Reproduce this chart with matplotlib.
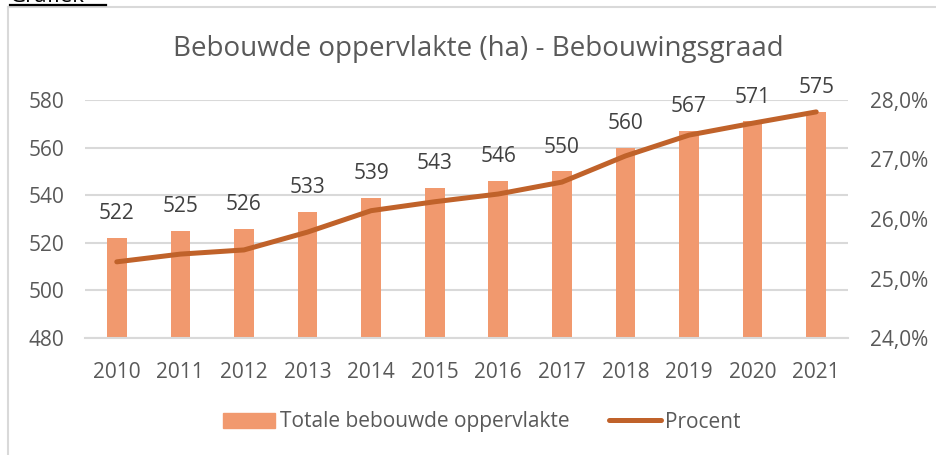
import matplotlib
matplotlib.use("Agg")
import matplotlib.pyplot as plt
from matplotlib.lines import Line2D
from matplotlib.ticker import FuncFormatter

plt.rcParams['font.family'] = ['Open Sans', 'DejaVu Sans']

years = ['2010', '2011', '2012', '2013', '2014', '2015', '2016', '2017', '2018', '2019', '2020', '2021']
oppervlakte = [522, 525, 526, 533, 539, 543, 546, 550, 560, 567, 571, 575]
procent = [25.28, 25.41, 25.48, 25.78, 26.14, 26.29, 26.42, 26.62, 27.06, 27.41, 27.61, 27.80]

title = 'Bebouwde oppervlakte (ha) - Bebouwingsgraad'
bar_label = 'Totale bebouwde oppervlakte'
line_label = 'Procent'

W, H = 937, 455
fig = plt.figure(figsize=(W / 100, H / 100), dpi=100)

bar_color = '#F1996E'
line_color = '#C0622A'
text_color = '#595959'
label_color = '#404040'
grid_color = '#D9D9D9'
fs = 15

ax = fig.add_axes([85 / W, (H - 338) / H, (848 - 85) / W, (338 - 100) / H])
x = list(range(len(years)))
ax.bar(x, oppervlakte, width=0.31, color=bar_color, zorder=2)
ax.set_ylim(480, 580)
ax.set_yticks([480, 500, 520, 540, 560, 580])
ax.set_xlim(-0.5, len(years) - 0.5)
ax.set_xticks(x)
ax.set_xticklabels(years)
ax.grid(axis='y', color=grid_color, linewidth=1.5, zorder=0)
ax.set_axisbelow(True)
for s in ['top', 'right', 'left']:
    ax.spines[s].set_visible(False)
ax.spines['bottom'].set_color(grid_color)
ax.spines['bottom'].set_linewidth(1.5)
ax.tick_params(axis='both', length=0, labelsize=fs, labelcolor=text_color)
ax.tick_params(axis='y', pad=15)
ax.tick_params(axis='x', pad=17)

for xi, v in zip(x, oppervlakte):
    ax.annotate(str(v), (xi, v), xytext=(0, 10), textcoords='offset points',
                ha='center', va='bottom', fontsize=fs, color=label_color,
                annotation_clip=False)

ax2 = ax.twinx()
ax2.plot(x, procent, color=line_color, linewidth=3.6, solid_capstyle='round',
         solid_joinstyle='round', zorder=3)
ax2.set_ylim(24, 28)
ax2.set_yticks([24, 25, 26, 27, 28])
ax2.yaxis.set_major_formatter(FuncFormatter(lambda v, p: f'{v:.1f}%'.replace('.', ',')))
for s in ['top', 'right', 'left', 'bottom']:
    ax2.spines[s].set_visible(False)
ax2.tick_params(axis='y', length=0, labelsize=fs, labelcolor=text_color, pad=16)

fig.text(478 / W, 1 - 49 / H, title, ha='center', va='center', fontsize=20, color=text_color)

handles = [
    plt.Rectangle((0, 0), 1, 1, color=bar_color),
    Line2D([0], [0], color=line_color, linewidth=3.6, solid_capstyle='round'),
]
fig.legend(handles, [bar_label, line_label], loc='center', bbox_to_anchor=(482 / W, 1 - 422 / H),
           ncol=2, frameon=False, fontsize=fs, labelcolor=text_color,
           handlelength=2.5, handletextpad=0.2, columnspacing=1.9)

# chart border
fig.add_artist(Line2D([8 / W, 1.0], [1 - 7 / H, 1 - 7 / H], color='#D9D9D9', linewidth=1.5))
fig.add_artist(Line2D([8 / W, 8 / W], [1 - 7 / H, 0], color='#D9D9D9', linewidth=1.5))

# clipped heading above chart
fig.text(10 / W, 1 - 1.5 / H, 'Grafiek', ha='left', va='baseline', fontsize=16, color='black')
fig.add_artist(Line2D([10 / W, 106 / W], [1 - 4.5 / H, 1 - 4.5 / H], color='black', linewidth=1.6))

fig.savefig('out.png', dpi=100, facecolor='white')
